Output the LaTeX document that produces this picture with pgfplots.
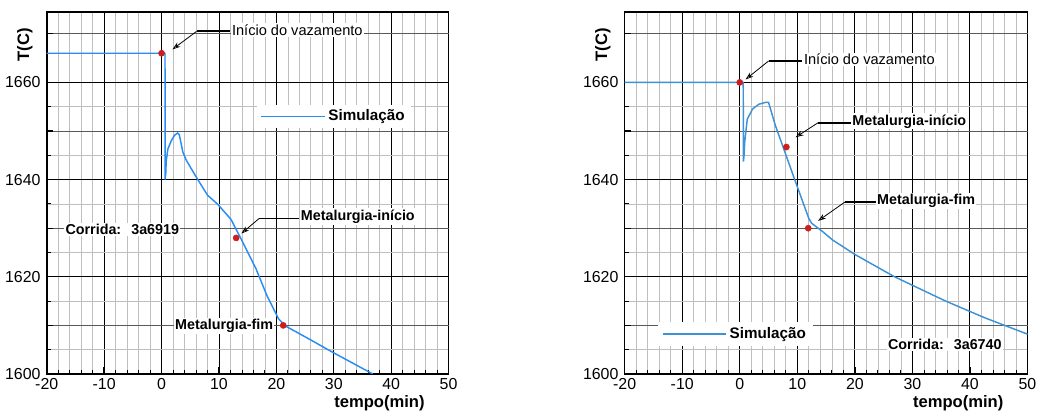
\documentclass[border=0pt]{standalone}
\usepackage{fontspec}
\setmainfont{Liberation Sans}
\usepackage{pgfplots}
\pgfplotsset{compat=1.18}
\usetikzlibrary{arrows.meta}

\definecolor{simblue}{RGB}{40,140,245}
\definecolor{simbluetwo}{RGB}{60,145,215}
\definecolor{ptred}{RGB}{205,30,30}

\pgfplotsset{
  tempchart/.style={
    scale only axis, width=303pt, height=273pt,
    xmin=-20, xmax=50, ymin=1600, ymax=1674.5,
    xtick={-20,-10,...,50}, ytick={1600,1620,1640,1660},
    minor x tick num=4, minor y tick num=3,
    extra y ticks={1610,1630,1650,1670}, extra y tick labels={},
    extra y tick style={grid=major, major grid style={gray!70!black, line width=0.6pt}},
    grid=both,
    major grid style={black, line width=0.7pt},
    minor grid style={gray!50, line width=0.5pt},
    tick align=inside, xtick pos=bottom, ytick pos=left,
    major tick length=5pt, minor tick length=3pt,
    major tick style={black, line width=1pt},
    minor tick style={black, line width=0.6pt},
    axis line style={black, line width=1.2pt},
    tick label style={font=\fontsize{12}{13}\selectfont, inner sep=0.5pt},
    xticklabel style={yshift=-2.5pt},
    yticklabel style={xshift=-4pt},
    /pgf/number format/assume math mode=true,
    /pgf/number format/1000 sep={},
    xlabel={tempo(min)}, ylabel={T(C)},
    xlabel style={at={(rel axis cs:0.828,0)}, anchor=north, inner sep=0pt, yshift=-16pt,
      font=\bfseries\fontsize{12.5}{14}\selectfont},
    ylabel style={at={(rel axis cs:0,0.909)}, anchor=center, yshift=16.5pt,
      font=\bfseries\fontsize{12.5}{14}\selectfont},
    legend style={draw=none, fill=white, font=\bfseries\fontsize{11.5}{13}\selectfont},
    legend image code/.code={\draw[#1, line width=1.2pt] (0pt,0pt) -- (48pt,0pt);},
  },
}

\tikzset{
  lbl/.style={fill=white, inner sep=1pt, anchor=west},
  ann/.style={black, line width=0.6pt, -{Stealth[length=6pt,width=4pt,open]}},
  annbar/.style={black, line width=1.4pt},
}

\begin{document}
\begin{tikzpicture}
\path (0,0) rectangle (777.75pt,309pt);

% left chart: 3a6919
\begin{axis}[tempchart, at={(35.25pt,27pt)}, anchor=south west,
  legend style={at={(axis cs:16.5,1653)}, anchor=west}]
\addplot[simblue, line width=1.1pt] coordinates {
(-20,1666) (0.6,1666) (0.62,1640) (0.75,1641.5) (0.8,1643.7) (1.1,1646.3)
(1.7,1648) (2.25,1649.1) (2.8,1649.6) (3.1,1649.2) (3.7,1645.7) (4.3,1644)
(6,1640.6) (8,1636.8) (9.8,1634.9) (12.1,1631.8) (13.5,1628.6) (16.4,1621.8)
(18.4,1616) (20.4,1611.3) (21.7,1609.8) (26,1607) (29.6,1604.6) (36.8,1600)
};
\addlegendentry{Simulação}
\addplot[only marks, mark=*, mark size=2.3pt, ptred, forget plot] coordinates {
(0,1666) (13,1628) (21.2,1610)
};
\draw[annbar] (axis cs:6.1,1670.5) -- (axis cs:12,1670.5);
\draw[ann] (axis cs:6.1,1670.5) -- (axis cs:1.9,1666.8);
\node[lbl, font=\fontsize{11}{13}\selectfont] at (axis cs:12,1670.8) {Início do vazamento};
\draw[annbar] (axis cs:17,1632) -- (axis cs:24,1632);
\draw[ann] (axis cs:17,1632) -- (axis cs:13.9,1628.9);
\node[lbl, font=\bfseries\fontsize{10.8}{13}\selectfont] at (axis cs:24,1632.4) {Metalurgia-início};
\node[lbl, anchor=east, font=\bfseries\fontsize{10.8}{13}\selectfont] at (axis cs:19.7,1609.9) {Metalurgia-fim};
\node[lbl, font=\bfseries\fontsize{10.8}{13}\selectfont] at (axis cs:-17,1629.7) {Corrida:\hspace{0.7em}3a6919};
\end{axis}

% right chart: 3a6740
\begin{axis}[tempchart, width=303.75pt, at={(471pt,27pt)}, anchor=south west,
  legend style={at={(axis cs:-14.3,1608.2)}, anchor=west}]
\addplot[simbluetwo, line width=1.1pt] coordinates {
(-20,1660) (0.6,1660) (0.64,1643.7) (0.75,1645) (0.86,1647.7) (1.3,1652.4)
(2.2,1654.5) (3.3,1655.5) (4.5,1655.9) (5,1655.9) (5.35,1654.5) (6.2,1651.1)
(7.5,1646.8) (9.7,1639.5) (12,1632) (12.5,1631) (14.3,1629.4) (16.1,1627.6)
(20,1624.6) (26.9,1620) (35.6,1615.1) (42.5,1611.6) (50,1608.2)
};
\addlegendentry{Simulação}
\addplot[only marks, mark=*, mark size=2.3pt, ptred, forget plot] coordinates {
(0,1660) (8.1,1646.7) (11.9,1630)
};
\draw[annbar] (axis cs:5,1664.4) -- (axis cs:10.8,1664.4);
\draw[ann] (axis cs:5,1664.4) -- (axis cs:1,1660.6);
\node[lbl, font=\fontsize{11}{13}\selectfont] at (axis cs:10.9,1664.7) {Início do vazamento};
\draw[annbar] (axis cs:13.6,1651.7) -- (axis cs:19.3,1651.7);
\draw[ann] (axis cs:13.6,1651.7) -- (axis cs:9.7,1648.7);
\node[lbl, font=\bfseries\fontsize{10.8}{13}\selectfont] at (axis cs:19.3,1652) {Metalurgia-início};
\draw[annbar] (axis cs:18.3,1635.4) -- (axis cs:23.6,1635.4);
\draw[ann] (axis cs:18.3,1635.4) -- (axis cs:13.6,1631.5);
\node[lbl, font=\bfseries\fontsize{10.8}{13}\selectfont] at (axis cs:23.6,1635.6) {Metalurgia-fim};
\node[lbl, font=\bfseries\fontsize{10.8}{13}\selectfont] at (axis cs:25.5,1606.1) {Corrida:\hspace{0.7em}3a6740};
\end{axis}
\end{tikzpicture}
\end{document}
